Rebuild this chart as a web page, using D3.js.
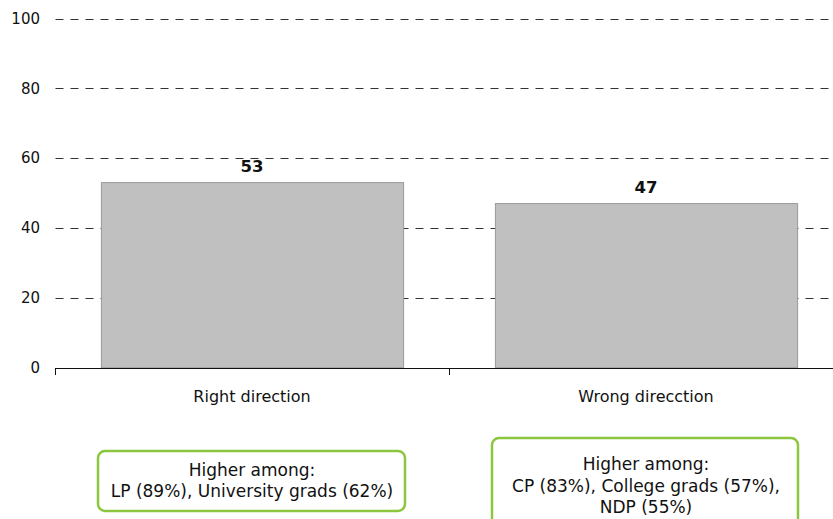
<!DOCTYPE html>
<html><head><meta charset="utf-8">
<script src="https://cdn.jsdelivr.net/npm/d3@7/dist/d3.min.js"></script>
<style>body{margin:0;background:#fff}svg{display:block}</style>
</head><body>
<svg id="c" width="833" height="519"></svg>
<script>
const categories = ["Right direction", "Wrong direcction"];
const values = [53, 47];
const yTicks = [0, 20, 40, 60, 80, 100];
const notes = [
  ["Higher among:", "LP (89%), University grads (62%)"],
  ["Higher among:", "CP (83%), College grads (57%),", "NDP (55%)"]
];

const svg = d3.select("#c");
const font = "DejaVu Sans, Verdana, sans-serif";
const plotLeft = 55, plotRight = 843, plotTop = 18.5, plotBottom = 367.7;

const x = d3.scaleBand().domain(categories).range([plotLeft, plotRight]).paddingInner(0.233).paddingOuter(0.1165);
const y = d3.scaleLinear().domain([0, 100]).range([plotBottom, plotTop]);

// gridlines
svg.append("g").selectAll("line").data(yTicks.filter(d => d > 0)).join("line")
  .attr("x1", plotLeft + 0.5).attr("x2", plotRight)
  .attr("y1", d => Math.round(y(d)) + 0.5).attr("y2", d => Math.round(y(d)) + 0.5)
  .attr("stroke", "#333").attr("stroke-width", 1).attr("stroke-dasharray", "8,7");

// y tick labels
svg.append("g").selectAll("text").data(yTicks).join("text")
  .attr("x", 40).attr("y", d => y(d)).attr("dy", "0.35em")
  .attr("text-anchor", "end").attr("font-family", font).attr("font-size", 15).attr("fill", "#111")
  .text(d => d);

// bars
svg.append("g").selectAll("rect").data(values).join("rect")
  .attr("x", (d, i) => x(categories[i]) + 0.5)
  .attr("y", d => y(d))
  .attr("width", x.bandwidth())
  .attr("height", d => plotBottom - y(d))
  .attr("fill", "#c0c0c0").attr("stroke", "#9a9a9a").attr("stroke-width", 1);

// value labels
svg.append("g").selectAll("text").data(values).join("text")
  .attr("x", (d, i) => x(categories[i]) + x.bandwidth() / 2)
  .attr("y", d => y(d) - 10.5)
  .attr("text-anchor", "middle").attr("font-family", font).attr("font-size", 16.5)
  .attr("font-weight", "bold").attr("fill", "#111")
  .text(d => d);

// x axis
const xAxis = d3.axisBottom(x).tickSize(0).tickPadding(0);
const gx = svg.append("g").attr("transform", `translate(0,${Math.round(plotBottom) + 0.5})`).call(xAxis);
gx.select(".domain").remove();
gx.selectAll("text").attr("font-family", font).attr("font-size", 16).attr("fill", "#111")
  .attr("dy", null).attr("y", 33);
svg.append("line").attr("x1", plotLeft).attr("x2", plotRight)
  .attr("y1", Math.round(plotBottom) + 0.5).attr("y2", Math.round(plotBottom) + 0.5)
  .attr("stroke", "#111");
const step = x.step();
svg.append("g").selectAll("line").data(d3.range(categories.length + 1)).join("line")
  .attr("x1", i => Math.round(plotLeft + i * step) + 0.5).attr("x2", i => Math.round(plotLeft + i * step) + 0.5)
  .attr("y1", Math.round(plotBottom)).attr("y2", Math.round(plotBottom) + 7)
  .attr("stroke", "#111");

// note boxes
const boxes = [
  {x: 98, y: 451, w: 307, h: 60},
  {x: 492, y: 438, w: 306, h: 90}
];
boxes.forEach((b, i) => {
  const g = svg.append("g");
  g.append("rect").attr("x", b.x).attr("y", b.y).attr("width", b.w).attr("height", b.h)
    .attr("rx", 7).attr("fill", "#fff").attr("stroke", "#8cc63f").attr("stroke-width", 2.5);
  const cx = x(categories[i]) + x.bandwidth() / 2;
  const startY = i === 0 ? 475.5 : 470;
  g.selectAll("text").data(notes[i]).join("text")
    .attr("x", cx).attr("y", (d, j) => startY + j * 21.5)
    .attr("text-anchor", "middle").attr("font-family", font).attr("font-size", 17).attr("fill", "#111")
    .text(d => d);
});
</script>
</body></html>
